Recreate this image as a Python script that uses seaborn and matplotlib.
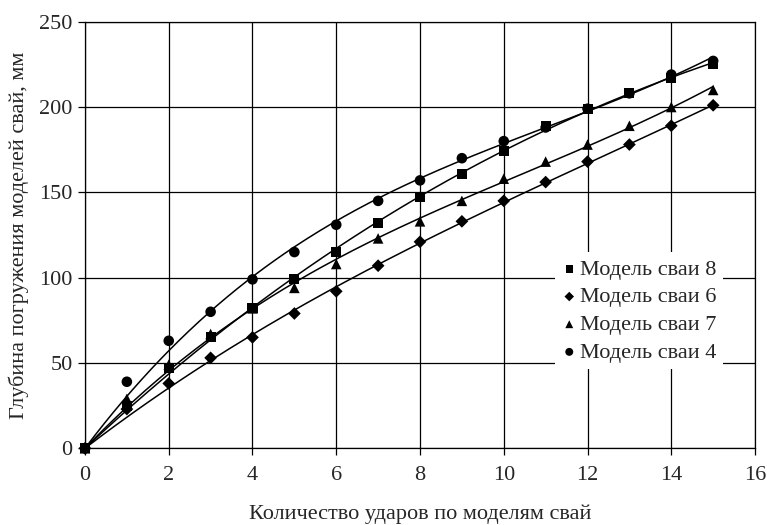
import numpy as np
import pandas as pd
import matplotlib
matplotlib.use("Agg")
import matplotlib.pyplot as plt
import seaborn as sns

# number of blows
udary = list(range(16))

# penetration depth, mm
model_8 = [0, 25, 47, 65, 82, 99, 115, 132, 147, 161, 174, 189, 199, 208, 217, 225]
model_6 = [0, 23, 38, 53, 65, 79, 92, 107, 121, 133, 145, 156, 168, 178, 189, 201]
model_7 = [0, 29, 49, 67, 82, 94, 108, 123, 133, 145, 158, 168, 178, 189, 200, 210]
model_4 = [0, 39, 63, 80, 99, 115, 131, 145, 157, 170, 180, 188, 199, 208, 219, 227]

names = ["Модель сваи 8", "Модель сваи 6", "Модель сваи 7", "Модель сваи 4"]
series = [model_8, model_6, model_7, model_4]
markers = {"Модель сваи 8": "s", "Модель сваи 6": "D", "Модель сваи 7": "^", "Модель сваи 4": "o"}
sizes = {"Модель сваи 8": 52, "Модель сваи 6": 42, "Модель сваи 7": 58, "Модель сваи 4": 58}

df = pd.concat([pd.DataFrame({"x": udary, "y": s, "model": n}) for n, s in zip(names, series)])

# polynomial trend lines through the origin (like the Excel ones)
xs = np.linspace(0, 15, 200)
fits = []
for n, s in zip(names, series):
    x = np.array(udary, dtype=float)
    A = np.column_stack([x, x**2, x**3])
    coef, *_ = np.linalg.lstsq(A, np.array(s, dtype=float), rcond=None)
    ys = coef[0]*xs + coef[1]*xs**2 + coef[2]*xs**3
    fits.append(pd.DataFrame({"x": xs, "y": ys, "model": n}))
df_fit = pd.concat(fits)

sns.set_style("white")
plt.rcParams["font.family"] = ["Liberation Serif", "DejaVu Serif"]
plt.rcParams["font.size"] = 16

fig = plt.figure(figsize=(7.67, 5.25), dpi=100)
ax = fig.add_axes([0.1108, 0.1461, 0.8736, 0.8126])

for n in names:
    d = df_fit[df_fit["model"] == n]
    sns.lineplot(data=d, x="x", y="y", color="black", linewidth=1.1, ax=ax, legend=False, zorder=3)

for n in names:
    d = df[df["model"] == n]
    ax.scatter(d["x"], d["y"], marker=markers[n], s=sizes[n], color="black",
               edgecolors="none", label=n, zorder=4, clip_on=False)

ax.set_xlim(0, 16)
ax.set_ylim(0, 250)
ax.set_xticks(range(0, 17, 2))
ax.set_yticks(range(0, 251, 50))
ax.grid(True, color="black", linewidth=0.9)
ax.set_axisbelow(True)
for sp in ax.spines.values():
    sp.set_color("black")
    sp.set_linewidth(0.9)
ax.tick_params(axis="both", direction="out", length=5, width=0.9, color="black",
               labelsize=16, bottom=True, left=True)
ax.tick_params(axis="x", pad=8)
ax.tick_params(axis="y", pad=4)

ax.set_xlabel("Количество ударов по моделям свай", fontsize=16, labelpad=14)
ax.set_ylabel("Глубина погружения моделей свай, мм", fontsize=16, labelpad=7)

leg = ax.legend(loc="center", bbox_to_anchor=(0.827, 0.322), frameon=True, fontsize=16,
                markerscale=0.75, handletextpad=0.15, handlelength=0.7, labelspacing=0.32,
                borderpad=0.3, borderaxespad=0, fancybox=False)
leg.get_frame().set_facecolor("white")
leg.get_frame().set_edgecolor("none")
leg.get_frame().set_alpha(1)
leg.set_zorder(5)

fig.savefig("out.png", dpi=100)
